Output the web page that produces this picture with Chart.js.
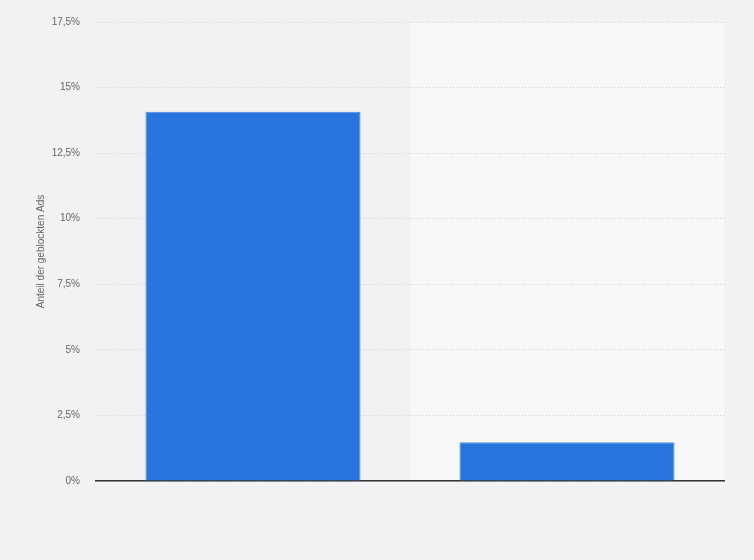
<!DOCTYPE html>
<html>
<head>
<meta charset="utf-8">
<script src="https://cdn.jsdelivr.net/npm/chart.js@4/dist/chart.umd.min.js"></script>
<style>
  html, body { margin: 0; padding: 0; background: #f2f2f2; }
  #wrap { width: 754px; height: 560px; position: relative; }
</style>
</head>
<body>
<div id="wrap"><canvas id="c" width="754" height="560"></canvas></div>
<script>
const categories = ['Ohne Adblocker', 'Mit Adblocker'];
const values = [14.08, 1.48];
const yTitle = 'Anteil der geblockten Ads';

const bgPlugin = {
  id: 'bg',
  beforeDraw(chart) {
    const { ctx, chartArea, scales } = chart;
    ctx.save();
    ctx.fillStyle = '#f2f2f2';
    ctx.fillRect(0, 0, chart.width, chart.height);
    const x = scales.x;
    const mid = (x.getPixelForValue(0) + x.getPixelForValue(1)) / 2;
    ctx.fillStyle = '#f8f8f8';
    ctx.fillRect(mid, chartArea.top, chartArea.right - mid, chartArea.bottom - chartArea.top);
    ctx.restore();
  }
};

new Chart(document.getElementById('c'), {
  type: 'bar',
  data: {
    labels: categories,
    datasets: [{
      data: values,
      backgroundColor: '#2876dd',
      borderColor: '#4a8be6',
      borderWidth: { top: 1, left: 1, right: 1, bottom: 0 },
      categoryPercentage: 1,
      barPercentage: 0.685
    }]
  },
  options: {
    responsive: false,
    animation: false,
    devicePixelRatio: 1,
    layout: { padding: { left: 30, right: 30, top: 14, bottom: 79 } },
    plugins: { legend: { display: false }, tooltip: { enabled: false } },
    scales: {
      x: {
        ticks: { display: false },
        grid: { display: false },
        border: { display: true, color: '#333333', width: 1.5 },
        afterFit(scale) { scale.height = 0; }
      },
      y: {
        min: 0,
        max: 17.5,
        ticks: {
          stepSize: 2.5,
          padding: 16,
          color: '#666666',
          font: { family: 'Arial, Liberation Sans, sans-serif', size: 10 },
          callback: v => String(v).replace('.', ',') + '%'
        },
        grid: { color: '#d0d0d0', drawTicks: false, lineWidth: 1 },
        border: { display: false, dash: [1, 2] },
        title: {
          display: true,
          text: yTitle,
          color: '#666666',
          font: { family: 'Arial, Liberation Sans, sans-serif', size: 10 },
          padding: { top: 5, bottom: 0 }
        },
        afterFit(scale) { scale.width = 66; }
      }
    }
  },
  plugins: [bgPlugin]
});
</script>
</body>
</html>
